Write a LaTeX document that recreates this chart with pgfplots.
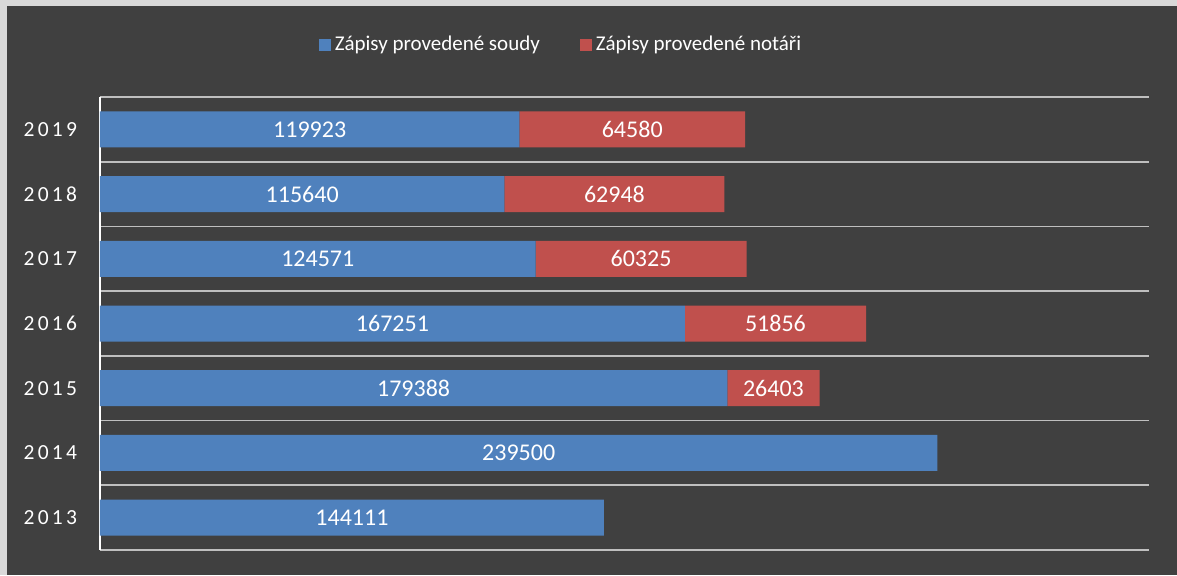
\documentclass[border=0pt]{standalone}
\usepackage{pgfplots}
\pgfplotsset{compat=1.18}
\usepackage{pgfplotstable}
\usepackage{fontspec}
\setmainfont{Carlito}
\newfontfamily\yearfont[LetterSpace=15]{Carlito}
\usetikzlibrary{backgrounds}
\definecolor{bg}{HTML}{404040}
\definecolor{frame}{HTML}{D9D9D9}
\definecolor{cblue}{HTML}{4F81BD}
\definecolor{cred}{HTML}{C0504D}
\definecolor{gridc}{HTML}{BFBFBF}
\pgfplotstableread{
idx year soudy notari lab
0 2013 144111 0 {}
1 2014 239500 0 {}
2 2015 179388 26403 26403
3 2016 167251 51856 51856
4 2017 124571 60325 60325
5 2018 115640 62948 62948
6 2019 119923 64580 64580
}\data
\begin{document}
\begin{tikzpicture}
\begin{axis}[
  name=ax,
  scale only axis, width=524.5pt, height=226.5pt,
  xbar stacked, bar width=18pt,
  xmin=0, xmax=300000, ymin=-0.5, ymax=6.5,
  axis x line=none, axis y line*=left,
  y axis line style={draw=white, line width=0.8pt},
  ytick={0,1,2,3,4,5,6},
  yticklabels={2013,2014,2015,2016,2017,2018,2019},
  major tick length=0pt, minor tick length=0pt,
  yticklabel style={font=\yearfont\fontsize{10.75}{12}\selectfont, text=white, xshift=-8pt},
  minor ytick={-0.5,0.5,1.5,2.5,3.5,4.5,5.5,6.5},
  yminorgrids, minor grid style={draw=gridc, line width=0.8pt},
  nodes near coords, point meta=explicit symbolic,
  every node near coord/.append style={anchor=center, text=white,
     font=\fontsize{12}{13}\selectfont},
  legend style={at={(0.4404,1.1148)}, anchor=center, draw=none, fill=none,
     text=white, font=\fontsize{10.5}{12}\selectfont,
     /tikz/every even column/.append style={column sep=18pt}},
  legend columns=2,
  legend image code/.code={\fill[#1] (0pt,-3pt) rectangle (6pt,3pt);},
]
\addplot[fill=cblue, draw=none]
  table[x=soudy, y=idx, meta=soudy] {\data};
\addplot[fill=cred, draw=none]
  table[x=notari, y=idx, meta=lab] {\data};
\legend{Zápisy provedené soudy, Zápisy provedené notáři}
\end{axis}
\begin{scope}[on background layer]
\fill[frame] ([shift={(-50pt,-12.5pt)}]ax.south west) rectangle ([shift={(538.5pt,275pt)}]ax.south west);
\fill[bg] ([shift={(-46.5pt,-12.5pt)}]ax.south west) rectangle ([shift={(538.5pt,272pt)}]ax.south west);
\end{scope}
\end{tikzpicture}
\end{document}
